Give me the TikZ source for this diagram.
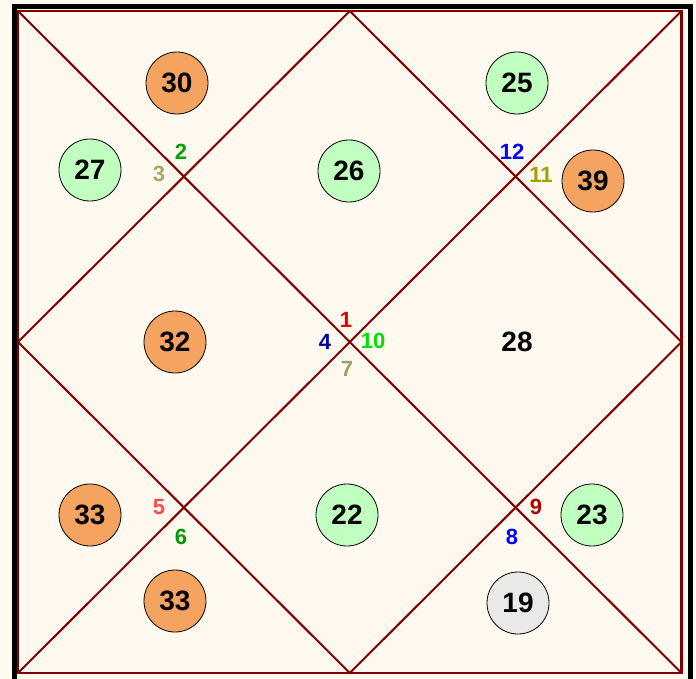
\documentclass[tikz,border=0pt]{standalone}
\usepackage{fontspec}
\setmainfont{Liberation Sans}
\definecolor{chartbg}{HTML}{FFF9EF}
\definecolor{chartline}{HTML}{800000}
\definecolor{orangep}{HTML}{F4A460}
\definecolor{greenp}{HTML}{C1FFC1}
\definecolor{grayp}{HTML}{EBE8E8}
\tikzset{
	planet/.style={circle, draw=black, line width=0.8pt, minimum size=62pt, inner sep=0pt,
		font=\fontsize{28}{28}\selectfont\bfseries},
	housenum/.style={inner sep=0pt, font=\fontsize{22}{22}\selectfont\bfseries}
}
\begin{document}
\begin{tikzpicture}[x=1pt, y=-1pt]
	
	\useasboundingbox (0,0) rectangle (696,679);
	\clip (0,0) rectangle (696,679);
	\fill[chartbg] (0,0) rectangle (696,679);
	
	% outer frame
	\draw[black, line width=5pt] (14.5,6.5) rectangle (690.5,695);
	
	% chart lines
	\coordinate (tl) at (18,11);
	\coordinate (tr) at (681.5,11);
	\coordinate (br) at (681.5,673);
	\coordinate (bl) at (18,673);
	\coordinate (tm) at (349.75,11);
	\coordinate (rm) at (681.5,342);
	\coordinate (bm) at (349.75,673);
	\coordinate (lm) at (18,342);
	
	\draw[chartline, line width=2.5pt] (tl) rectangle (br);
	\draw[chartline, line width=2pt] (tm) -- (rm) -- (bm) -- (lm) -- cycle;
	\draw[chartline, line width=2pt] (tl) -- (br) (tr) -- (bl);
	
	% planets
	\foreach \x/\y/\n/\c/\k in {
		177/83/30/orangep/a, 517/83/25/greenp/b, 90/170/27/greenp/c,
		349/171/26/greenp/d, 593/181/39/orangep/e, 175/342/32/orangep/f,
		90/515/33/orangep/g, 347/515/22/greenp/h, 592/515/23/greenp/i,
		175/601/33/orangep/j, 518/603/19/grayp/k
	}{
		\node[planet, fill=\c] (p\k) at (\x,\y) {\n};
	}
	\node[font=\fontsize{28}{28}\selectfont\bfseries, inner sep=0pt] (p28) at (517,342) {28};
	
	% house numbers
	\foreach \x/\y/\n/\c in {
		346/320/1/E00000, 181/152/2/00A000, 159/174/3/A8A866, 325/342/4/0000A0,
		159/507/5/FF4D4D, 181/537/6/009900, 347/369/7/A0A060, 512/537/8/0000FF,
		536/507/9/B00000, 373/341/10/00E000, 541/175/11/A0A000, 512/152/12/0000FF
	}{
		\definecolor{hc}{HTML}{\c}
		\node[housenum, text=hc] (h\n) at (\x,\y) {\n};
	}
	
\end{tikzpicture}
\end{document}
